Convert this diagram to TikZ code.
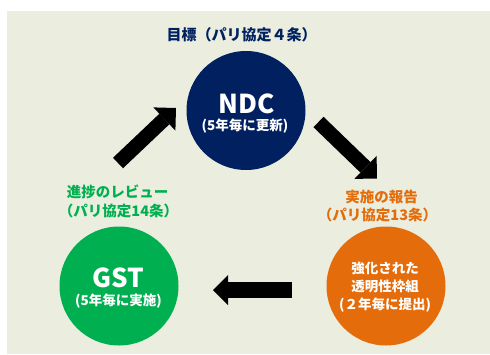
\documentclass[tikz,border=0pt]{standalone}
\usepackage{fontspec}
\setmainfont{Noto Sans CJK JP}
\usetikzlibrary{arrows.meta}
\definecolor{bgc}{HTML}{EBEEDF}
\definecolor{navy}{HTML}{002060}
\definecolor{grn}{HTML}{00B050}
\definecolor{org}{HTML}{E46C0A}
\tikzset{
  cyc/.style={circle, inner sep=0pt, minimum size=119pt},
  txt/.style={inner sep=0pt, font=\bfseries\fontsize{13.5}{15}\selectfont},
  big/.style={inner sep=0pt, font=\bfseries\fontsize{26}{28}\selectfont},
  lbl/.style={inner sep=0pt, font=\bfseries\fontsize{14.5}{17}\selectfont},
  blk/.style={line width=14.5pt, black, -{Triangle[line width=0pt, length=16pt, width=32pt]}},
}
\begin{document}
\begin{tikzpicture}[x=1pt, y=-1pt]
\useasboundingbox (0,0) rectangle (490,354);
\fill[white] (0,0) rectangle (490,354);
\fill[bgc] (7,11) rectangle (490,354);

% circles
\node[cyc, fill=navy] (ndc) at (246,110.5) {};
\node[cyc, fill=grn] (gst) at (119,286) {};
\node[cyc, fill=org] (etf) at (386,286) {};

% circle texts
\node[big, white] (ndct) at (246.5,103.5) {NDC};
\node[txt, white] (ndcs) at (245,126.5) {(5年毎に更新)};
\node[big, white] (gstt) at (118,277.5) {GST};
\node[txt, white] (gsts) at (118.5,301.5) {(5年毎に実施)};
\node[txt, white] (etf1) at (385,268.5) {強化された};
\node[txt, white] (etf2) at (385,286.5) {透明性枠組};
\node[txt, white] (etf3) at (385,305) {(２年毎に提出)};

% labels
\node[lbl, navy, font=\bfseries\fontsize{15}{17}\selectfont] (title) at (241.5,34.5) {目標（パリ協定４条）};
\node[lbl, grn] (rev1) at (117.5,191.5) {進捗のレビュー};
\node[lbl, grn] (rev2) at (118.5,210.5) {（パリ協定14条）};
\node[lbl, org] (rep1) at (381.5,196.5) {実施の報告};
\node[lbl, org] (rep2) at (377.5,215) {（パリ協定13条）};

% block arrows
\coordinate (a1s) at (118,163);
\coordinate (a1e) at (176,108);
\coordinate (a2s) at (318.5,122);
\coordinate (a2e) at (377,178.5);
\coordinate (a3s) at (292,290);
\coordinate (a3e) at (213,290);
\draw[blk] (a1s) -- (a1e);
\draw[blk] (a2s) -- (a2e);
\draw[blk, line width=16pt, -{Triangle[line width=0pt, length=15pt, width=30pt]}] (a3s) -- (a3e);
\end{tikzpicture}
\end{document}
